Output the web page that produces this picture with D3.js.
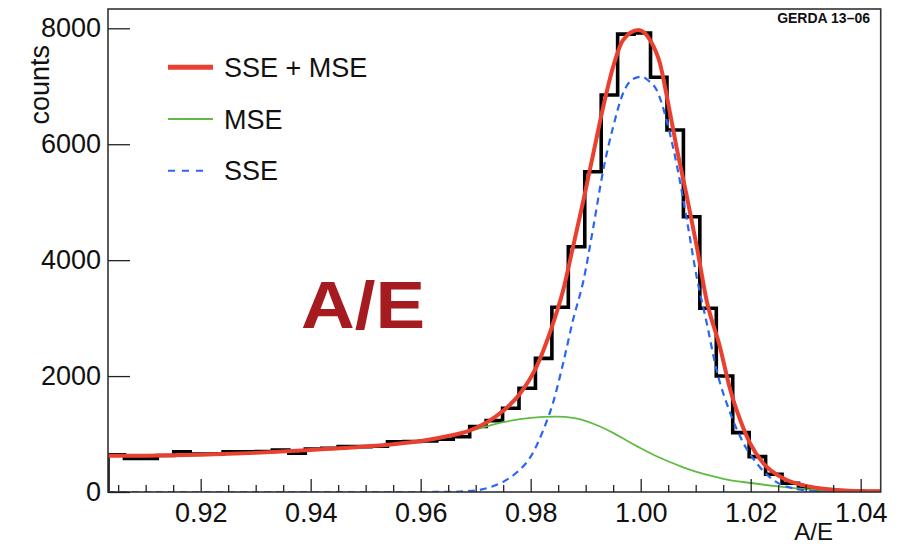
<!DOCTYPE html>
<html><head><meta charset="utf-8">
<script src="https://cdn.jsdelivr.net/npm/d3@7"></script>
<style>
html,body{margin:0;padding:0;background:#fff;}
svg{display:block;font-family:"Liberation Sans",Arial,Helvetica,sans-serif;}
</style></head>
<body>
<svg id="chart" width="908" height="546"></svg>
<script>
// ---------- data ----------
const xDomain = [0.90315, 1.04364];
const yDomain = [0, 8333];
const binLow = 0.90315;
const binWidth = 0.0029891;
const histCounts = [640,580,580,630,695,655,655,695,695,700,725,668,740,754,782,782,790,868,870,880,909,954,1130,1231,1444,1789,2306,3187,4232,5526,6850,7900,7920,7155,6246,4750,3169,2001,1024,610,305,150,64,35,20,12,8];

const sumX = [0.90315,0.910,0.920,0.930,0.940,0.950,0.955,0.960,0.965,0.969,0.972,0.975,0.978,0.981,0.9835,0.9859,0.9877,0.9896,0.9914,0.9932,0.9950,0.9968,0.9996,1.0017,1.0035,1.0050,1.0065,1.0084,1.0102,1.0120,1.0144,1.0163,1.0181,1.0199,1.0223,1.0259,1.0308,1.0356,1.0410,1.04364];
const sumY = [625,627,642,675,725,785,825,880,965,1065,1200,1400,1690,2150,2750,3480,4230,5038,5844,6648,7338,7799,7971,7799,7396,6706,5958,5095,4232,3300,2507,1760,1242,840,495,236,92,35,15,12];

const mseX = [0.90315,0.910,0.920,0.930,0.940,0.950,0.960,0.965,0.970,0.975,0.980,0.9845,0.988,0.9925,0.995,0.9975,1.000,1.0025,1.005,1.0075,1.010,1.0125,1.015,1.020,1.025,1.030,1.035,1.040,1.04364];
const mseY = [625,628,645,675,725,780,880,960,1080,1205,1280,1300,1275,1135,1020,885,755,635,530,435,352,285,228,155,97,50,22,8,4];

const sseX = [0.90315,0.930,0.960,0.965,0.968,0.9708,0.973,0.975,0.9775,0.980,0.9823,0.9841,0.9859,0.9877,0.9896,0.9914,0.9932,0.9950,0.9968,0.9985,1.0002,1.0015,1.0029,1.0047,1.0065,1.0084,1.0102,1.0120,1.0138,1.0163,1.0187,1.0211,1.0241,1.0277,1.0320,1.0360,1.04364];
const sseY = [0,0,0,2,12,38,95,175,340,610,1070,1550,2220,2968,3650,4577,5556,6303,6879,7120,7166,7090,6936,6418,5671,4693,3700,2920,2105,1358,840,495,207,64,10,0,0];

const xMajor = [0.92,0.94,0.96,0.98,1.00,1.02,1.04];
const xMajorLabels = ["0.92","0.94","0.96","0.98","1.00","1.02","1.04"];
const xMinor = [0.905,0.910,0.915,0.925,0.930,0.935,0.945,0.950,0.955,0.965,0.970,0.975,0.985,0.990,0.995,1.005,1.010,1.015,1.025,1.030,1.035];
const yMajor = [0,2000,4000,6000,8000];
const yMajorLabels = ["0","2000","4000","6000","8000"];
const legendLabels = ["SSE + MSE","MSE","SSE"];

// ---------- layout ----------
const L = 108, R = 880.7, T = 9, B = 492;
const svg = d3.select("#chart");
const x = d3.scaleLinear().domain(xDomain).range([L, R]);
const y = d3.scaleLinear().domain(yDomain).range([B, T]);

const COL_RED = "#ea4030", COL_GREEN = "#5fbb44", COL_BLUE = "#2a66f2";

svg.append("defs").append("clipPath").attr("id","plotclip")
  .append("rect").attr("x",L).attr("y",T).attr("width",R-L).attr("height",B-T);

const plot = svg.append("g").attr("clip-path","url(#plotclip)");

// histogram step path
const stepPts = [[binLow, 0]];
histCounts.forEach((c,i)=>{
  stepPts.push([binLow + i*binWidth, c]);
  stepPts.push([binLow + (i+1)*binWidth, c]);
});
const lineLin = d3.line().x(d=>x(d[0])).y(d=>y(d[1]));
plot.append("path").attr("d", lineLin(stepPts))
  .attr("fill","none").attr("stroke","#000").attr("stroke-width",3.6).attr("stroke-linejoin","miter");

const smooth = d3.line().x(d=>x(d[0])).y(d=>y(d[1])).curve(d3.curveMonotoneX);
plot.append("path").attr("d", smooth(d3.zip(mseX, mseY)))
  .attr("fill","none").attr("stroke",COL_GREEN).attr("stroke-width",1.8);
plot.append("path").attr("d", smooth(d3.zip(sseX, sseY)))
  .attr("fill","none").attr("stroke",COL_BLUE).attr("stroke-width",2.2).attr("stroke-dasharray","7,5");
plot.append("path").attr("d", smooth(d3.zip(sumX, sumY)))
  .attr("fill","none").attr("stroke",COL_RED).attr("stroke-width",4).attr("stroke-linecap","round");

// frame
svg.append("rect").attr("x",L).attr("y",T).attr("width",R-L).attr("height",B-T)
  .attr("fill","none").attr("stroke","#333").attr("stroke-width",1.6);

// x axis
const xAxis = d3.axisBottom(x).tickValues(xMajor)
  .tickFormat((d,i)=>xMajorLabels[i]).tickSizeInner(-13).tickSizeOuter(0).tickPadding(11);
const gx = svg.append("g").attr("transform",`translate(0,${B})`).call(xAxis);
gx.select(".domain").remove();
gx.selectAll(".tick line").attr("stroke","#222").attr("stroke-width",1.3);
gx.selectAll(".tick text").attr("font-size",27).attr("fill","#111")
  .attr("font-family","'Liberation Sans',Arial,sans-serif");
const xAxisMinor = d3.axisBottom(x).tickValues(xMinor).tickFormat("").tickSizeInner(-7).tickSizeOuter(0);
const gxm = svg.append("g").attr("transform",`translate(0,${B})`).call(xAxisMinor);
gxm.select(".domain").remove();
gxm.selectAll(".tick line").attr("stroke","#222").attr("stroke-width",1.3);

// y axis
const yAxis = d3.axisLeft(y).tickValues(yMajor)
  .tickFormat((d,i)=>yMajorLabels[i]).tickSizeInner(-22).tickSizeOuter(0).tickPadding(7);
const gy = svg.append("g").attr("transform",`translate(${L},0)`).call(yAxis);
gy.select(".domain").remove();
gy.selectAll(".tick line").attr("stroke","#222").attr("stroke-width",1.3);
gy.selectAll(".tick text").attr("font-size",27).attr("fill","#111")
  .attr("font-family","'Liberation Sans',Arial,sans-serif");

// axis titles
svg.append("text").attr("x",833).attr("y",540).attr("text-anchor","end")
  .attr("font-size",24).attr("fill","#111").text("A/E");
svg.append("text").attr("transform","translate(49,45) rotate(-90)").attr("text-anchor","end")
  .attr("font-size",27).attr("fill","#111").text("counts");

// GERDA label
svg.append("text").attr("x",870).attr("y",22.5).attr("text-anchor","end")
  .attr("font-size",14).attr("font-weight","bold").attr("fill","#111").text("GERDA 13\u201306");

// big A/E
svg.append("text").attr("x",301).attr("y",328)
  .attr("font-size",66).attr("font-weight","bold").attr("fill","#a51b20")
  .attr("textLength",124).attr("lengthAdjust","spacingAndGlyphs").text("A/E");

// legend
const legY = [67.3, 119, 170.7];
const legStyles = [
  {c:COL_RED, w:5, dash:null},
  {c:COL_GREEN, w:1.8, dash:null},
  {c:COL_BLUE, w:2, dash:"7,7"}
];
const leg = svg.append("g");
legendLabels.forEach((lab,i)=>{
  const s = legStyles[i];
  leg.append("line").attr("x1",168).attr("x2", i===2 ? 208 : 213).attr("y1",legY[i]).attr("y2",legY[i])
    .attr("stroke",s.c).attr("stroke-width",s.w).attr("stroke-dasharray",s.dash);
  leg.append("text").attr("x",224).attr("y",legY[i]+9.5).attr("font-size",27).attr("fill","#111").text(lab);
});
</script>
</body></html>
